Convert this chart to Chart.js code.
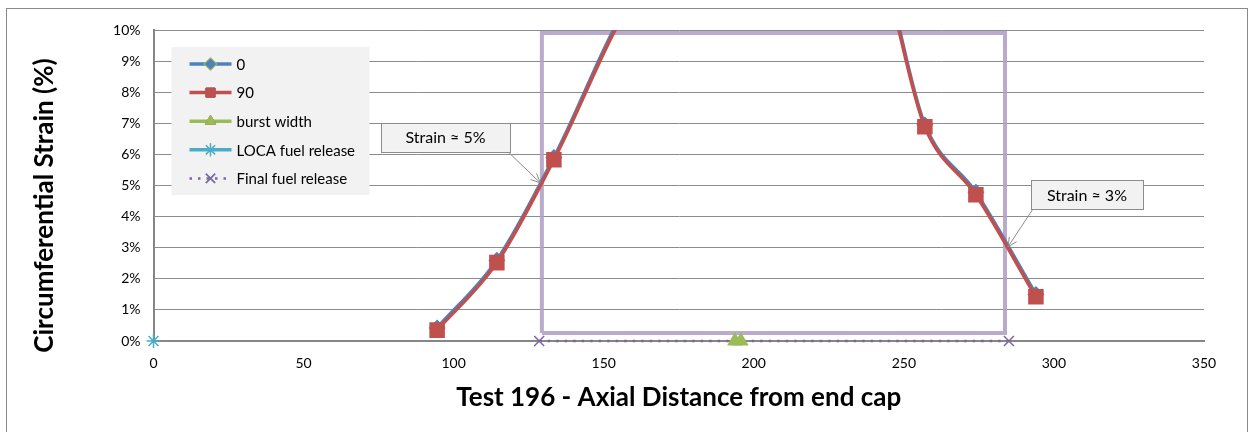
<!DOCTYPE html>
<html>
<head>
<meta charset="utf-8">
<script src="https://cdn.jsdelivr.net/npm/chart.js@4.4.1/dist/chart.umd.min.js"></script>
<style>
  html, body { margin: 0; padding: 0; background: #ffffff; }
  #wrap { width: 1250px; height: 432px; position: relative; }
  canvas { display: block; }
</style>
</head>
<body>
<div id="wrap"><canvas id="c" width="1250" height="432"></canvas></div>
<script>
// ---- data ----
const seriesNames = ['0', '90', 'burst width', 'LOCA fuel release', 'Final fuel release'];
const axialPos = [94.5, 114.4, 133.4, 160, 200, 240, 257, 274, 294];
const strain0  = [0.42, 2.60, 5.90, 11.1, 14.0, 12.6, 6.95, 4.78, 1.50];
const strain90 = [0.35, 2.52, 5.83, 11.0, 14.0, 12.5, 6.89, 4.70, 1.42];
const burstX = [193.7, 195.7];
const burstY = [0, 0];
const locaX = [0];
const locaY = [0];
const finalX = [128.5, 285];
const finalY = [0, 0];
const boxX = [129.4, 129.4, 283.7, 283.7, 129.4];
const boxY = [0.26, 9.9, 9.9, 0.26, 0.26];
const xTicks = [0, 50, 100, 150, 200, 250, 300, 350];
const yTicks = [0, 1, 2, 3, 4, 5, 6, 7, 8, 9, 10];
const calloutText = ['Strain \u2248 5%', 'Strain \u2248 3%'];
const calloutTipX = [128.8, 284.7];
const calloutTipY = [5.09, 3.03];
const calloutBoxX = [97.3, 311.0];
const calloutBoxY = [6.55, 4.71];
const xTitle = 'Test 196 - Axial Distance from end cap';
const yTitle = 'Circumferential Strain (%)';

const pts = (xs, ys) => xs.map((x, i) => ({x: x, y: ys[i]}));
const FONT = 'Lato, "Open Sans", sans-serif';

const datasets = [
  { label: seriesNames[0], data: pts(axialPos, strain0), borderColor: '#4f81bd', backgroundColor: '#4f81bd',
    borderWidth: 3.5, pointStyle: 'rectRot', pointRadius: 6, cubicInterpolationMode: 'monotone', order: 1 },
  { label: seriesNames[1], data: pts(axialPos, strain90), borderColor: '#c0504d', backgroundColor: '#c0504d',
    borderWidth: 3.5, pointStyle: 'rect', pointRadius: 8.5, cubicInterpolationMode: 'monotone', order: 0 },
  { label: seriesNames[2], data: pts(burstX, burstY), borderColor: '#9bbb59', backgroundColor: '#9bbb59',
    borderWidth: 3, pointStyle: 'triangle', pointRadius: 6, showLine: false, clip: false, order: 2 },
  { label: seriesNames[3], data: pts(locaX, locaY), borderColor: '#4bacc6', backgroundColor: '#4bacc6',
    borderWidth: 1.5, pointBorderWidth: 1.5, pointStyle: 'star', pointRadius: 7, showLine: false, clip: false, order: 2 },
  { label: seriesNames[4], data: pts(finalX, finalY), borderColor: '#7f63a2', backgroundColor: '#7f63a2',
    borderWidth: 2.5, borderDash: [2.5, 6], pointBorderWidth: 1.5, pointStyle: 'crossRot', pointRadius: 7, clip: false, order: 3 },
  { label: '_box', data: pts(boxX, boxY), borderColor: 'rgba(179,162,199,0.9)', backgroundColor: 'transparent',
    borderWidth: 4, pointRadius: 0, clip: false, order: 10, borderJoinStyle: 'miter' }
];

const framePlugin = {
  id: 'frame',
  beforeDraw(chart) {
    const ctx = chart.ctx;
    ctx.save();
    ctx.fillStyle = '#ffffff';
    ctx.fillRect(0, 0, chart.width, chart.height);
    ctx.strokeStyle = '#8a8a8a';
    ctx.lineWidth = 1;
    ctx.strokeRect(6.5, 8.5, 1241, 440);
    ctx.restore();
  }
};

const yTitlePlugin = {
  id: 'ytitle',
  afterDraw(chart) {
    const ctx = chart.ctx;
    const a = chart.chartArea;
    ctx.save();
    ctx.translate(45, (a.top + a.bottom) / 2 + 20);
    ctx.rotate(-Math.PI / 2);
    ctx.font = 'bold 26px ' + FONT;
    ctx.fillStyle = '#000000';
    ctx.textAlign = 'center';
    ctx.textBaseline = 'middle';
    ctx.fillText(yTitle, 0, 0);
    ctx.restore();
  }
};

const legendPlugin = {
  id: 'boxlegend',
  afterDatasetsDraw(chart) {
    const ctx = chart.ctx;
    const a = chart.chartArea;
    const x0 = a.left + 18, y0 = a.top + 17;
    ctx.save();
    ctx.fillStyle = '#f2f2f2';
    ctx.fillRect(x0, y0, 198, 148);
    const sizes = [5, 6.5, 6, 6.5, 6.5];
    for (let i = 0; i < 5; i++) {
      const ds = chart.data.datasets[i];
      const cy = y0 + 17 + i * 28.6;
      const lx1 = x0 + 18, lx2 = x0 + 60;
      ctx.save();
      ctx.strokeStyle = ds.borderColor;
      ctx.lineWidth = i === 4 ? 2.5 : 3.5;
      ctx.setLineDash(i === 4 ? [2.5, 6] : []);
      ctx.beginPath();
      ctx.moveTo(lx1, cy);
      ctx.lineTo(lx2, cy);
      ctx.stroke();
      ctx.restore();
      Chart.helpers.drawPoint(ctx, {
        pointStyle: ds.pointStyle, radius: sizes[i], rotation: 0,
        borderWidth: ds.pointBorderWidth || 1
      }, (lx1 + lx2) / 2, cy);
      ctx.fillStyle = ds.backgroundColor;
      ctx.strokeStyle = ds.borderColor;
      ctx.lineWidth = ds.pointBorderWidth || 1;
      ctx.fill();
      ctx.stroke();
      ctx.fillStyle = '#000000';
      ctx.font = '15px ' + FONT;
      ctx.textAlign = 'left';
      ctx.textBaseline = 'middle';
      ctx.fillText(ds.label, lx2 + 5, cy + 1);
    }
    ctx.restore();
  }
};

const calloutPlugin = {
  id: 'callouts',
  afterDatasetsDraw(chart) {
    const ctx = chart.ctx;
    const xs = chart.scales.x, ys = chart.scales.y;
    ctx.save();
    ctx.font = '16px ' + FONT;
    for (let i = 0; i < calloutText.length; i++) {
      const tx = xs.getPixelForValue(calloutTipX[i]);
      const ty = ys.getPixelForValue(calloutTipY[i]);
      const cx = xs.getPixelForValue(calloutBoxX[i]);
      const cy = ys.getPixelForValue(calloutBoxY[i]);
      const w = i === 0 ? 129 : 112, h = 29;
      const bx = cx - w / 2, by = cy - h / 2;
      const sx = i === 0 ? bx + w - 2 : bx + 2;
      const sy = by + h;
      ctx.strokeStyle = '#8c8c8c';
      ctx.lineWidth = 1;
      ctx.beginPath();
      ctx.moveTo(sx, sy);
      ctx.lineTo(tx, ty);
      ctx.stroke();
      const ang = Math.atan2(ty - sy, tx - sx);
      const L = 10, sp = 0.45;
      ctx.beginPath();
      ctx.moveTo(tx - L * Math.cos(ang - sp), ty - L * Math.sin(ang - sp));
      ctx.lineTo(tx, ty);
      ctx.lineTo(tx - L * Math.cos(ang + sp), ty - L * Math.sin(ang + sp));
      ctx.stroke();
      ctx.fillStyle = '#f2f2f2';
      ctx.fillRect(bx, by, w, h);
      ctx.strokeStyle = '#8c8c8c';
      ctx.strokeRect(Math.round(bx) + 0.5, Math.round(by) + 0.5, w, h);
      ctx.fillStyle = '#000000';
      ctx.textAlign = 'center';
      ctx.textBaseline = 'middle';
      ctx.fillText(calloutText[i], cx, cy + 1);
    }
    ctx.restore();
  }
};

new Chart(document.getElementById('c'), {
  type: 'line',
  data: { datasets: datasets },
  options: {
    responsive: false,
    animation: false,
    layout: { padding: { left: 0, right: 46, top: 30, bottom: 0 } },
    plugins: { legend: { display: false }, tooltip: { enabled: false } },
    scales: {
      x: {
        type: 'linear', min: 0, max: 350,
        afterBuildTicks(s) { s.ticks = xTicks.map(v => ({value: v})); },
        afterFit(s) { s.height = 91; },
        grid: { display: false, drawTicks: false },
        border: { display: true, color: '#868686', width: 2 },
        ticks: { padding: 14, color: '#000000', font: { family: FONT, size: 14 } },
        title: { display: true, text: xTitle, color: '#000000',
                 font: { family: FONT, size: 26, weight: 'bold' }, padding: { top: 0, bottom: 19 } }
      },
      y: {
        type: 'linear', min: 0, max: 10,
        afterBuildTicks(s) { s.ticks = yTicks.map(v => ({value: v})); },
        afterFit(s) { s.width = 153.5; },
        grid: { color: '#8c8c8c', lineWidth: 1, drawTicks: false },
        border: { display: true, color: '#868686', width: 2 },
        ticks: { padding: 13, color: '#000000', font: { family: FONT, size: 14 },
                 callback: v => v + '%' }
      }
    }
  },
  plugins: [framePlugin, yTitlePlugin, legendPlugin, calloutPlugin]
});
</script>
</body>
</html>
